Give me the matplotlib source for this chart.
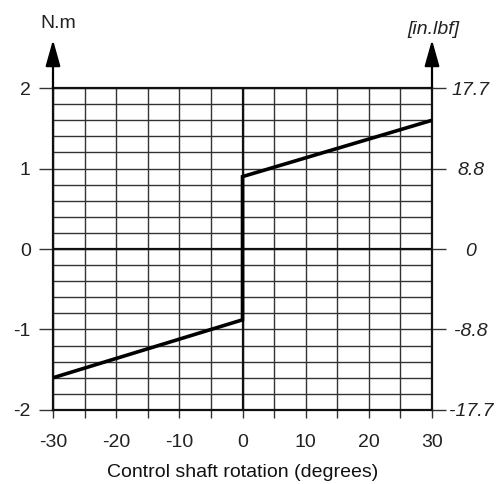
import numpy as np
import matplotlib.pyplot as plt

plt.rcParams['font.family'] = ['Liberation Sans', 'DejaVu Sans']

# torque curve (N.m) vs control shaft rotation (degrees)
rotation = [-30, 0, 0, 30]
torque = [-1.6, -0.88, 0.9, 1.6]

x_ticks = [-30, -20, -10, 0, 10, 20, 30]
y_ticks = [-2, -1, 0, 1, 2]
lbf_labels = ['-17.7', '-8.8', '0', '8.8', '17.7']

GRID = '#333333'
TEXT = '#222222'

fig = plt.figure(figsize=(5.0, 4.84), dpi=100)
ax = fig.add_axes([0.106, 0.153, 0.758, 0.665])

ax.set_xlim(-30, 30)
ax.set_ylim(-2, 2)
ax.set_xticks(x_ticks)
ax.set_xticks(np.arange(-30, 31, 5), minor=True)
ax.set_yticks(y_ticks)
ax.set_yticks(np.arange(-2, 2.01, 0.2), minor=True)

ax.grid(which='both', color=GRID, linewidth=1.0)
ax.axvline(0, color='#111111', linewidth=1.6)
ax.axhline(0, color='#111111', linewidth=1.6)

for side in ['left', 'right', 'top', 'bottom']:
    ax.spines[side].set_color('#111111')
    ax.spines[side].set_linewidth(1.6)

ax.tick_params(axis='x', which='both', length=6, width=1.0, color=GRID,
               labelsize=14, pad=11)
ax.tick_params(axis='y', which='major', length=10, width=1.0, color=GRID,
               labelsize=14, pad=6)
ax.tick_params(axis='y', which='minor', length=0)
ax.set_xticklabels([str(v) for v in x_ticks], color=TEXT)
ax.set_yticklabels([str(v) for v in y_ticks], color=TEXT)

# right-hand scale in in.lbf, labels centred a little way off the axis
ax2 = ax.twinx()
ax2.set_ylim(-2, 2)
ax2.set_yticks(y_ticks)
ax2.set_yticklabels(lbf_labels, style='italic', color=TEXT)
ax2.tick_params(axis='y', length=10, width=1.0, color=GRID, labelsize=14, pad=18)
for side in ['left', 'right', 'top', 'bottom']:
    ax2.spines[side].set_visible(False)
for lbl in ax2.get_yticklabels():
    lbl.set_horizontalalignment('center')

ax.plot(rotation, torque, color='black', linewidth=2.6, solid_joinstyle='miter',
        zorder=5)

ax.set_xlabel('Control shaft rotation (degrees)', fontsize=14, labelpad=10,
              color='#111111')

# axis arrows with unit labels
arrow = dict(arrowstyle='-|>,head_length=1.6,head_width=0.45', color='black',
             linewidth=1.6, shrinkA=0, shrinkB=0)
ax.annotate('', xy=(-30, 2.6), xytext=(-30, 2), arrowprops=arrow,
            annotation_clip=False)
ax.annotate('', xy=(30, 2.6), xytext=(30, 2), arrowprops=arrow,
            annotation_clip=False)
ax.text(-29.2, 2.7, 'N.m', ha='center', va='bottom', fontsize=14,
        color=TEXT, clip_on=False)
ax.text(30.2, 2.62, '[in.lbf]', ha='center', va='bottom', fontsize=14,
        style='italic', color=TEXT, clip_on=False)

fig.savefig('out.png', dpi=100)
